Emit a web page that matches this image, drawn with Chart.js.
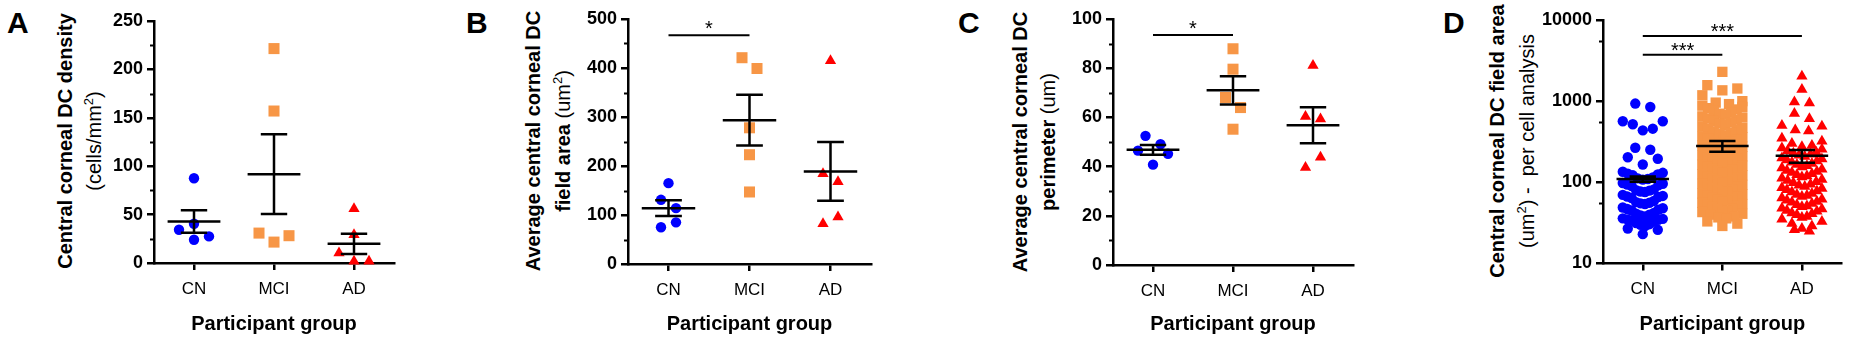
<!DOCTYPE html>
<html>
<head>
<meta charset="utf-8">
<script src="https://cdn.jsdelivr.net/npm/chart.js@4.4.0/dist/chart.umd.min.js"></script>
<style>
  body { margin: 0; background: #fff; width: 1849px; height: 340px; position: relative; overflow: hidden;
         font-family: "Liberation Sans", Arial, sans-serif; color: #000; }
  canvas { position: absolute; top: 0; }
  .letter { position: absolute; top: 8px; font-size: 30px; line-height: 30px; font-weight: bold; }
  .ytitle { position: absolute; white-space: nowrap; font-size: 20px; text-align: center;
            transform: translate(-50%, -50%) rotate(-90deg); }
  .ytitle sup { font-size: 0.65em; line-height: 0; }
</style>
</head>
<body>
<div class="letter" style="left:7px">A</div>
<div class="letter" style="left:466px">B</div>
<div class="letter" style="left:958px">C</div>
<div class="letter" style="left:1443px">D</div>

<div class="ytitle" style="left:80px;top:141px;line-height:29px">
  <div><b>Central corneal DC density</b></div>
  <div>(cells/mm<sup>2</sup>)</div>
</div>
<div class="ytitle" style="left:548px;top:141px;line-height:30px">
  <div><b>Average central corneal DC</b></div>
  <div><b>field area</b> (um<sup>2</sup>)</div>
</div>
<div class="ytitle" style="left:1034px;top:142px;line-height:28px">
  <div><b>Average central corneal DC</b></div>
  <div><b>perimeter</b> (um)</div>
</div>
<div class="ytitle" style="left:1512px;top:141px;line-height:30px">
  <div><b>Central corneal DC field area</b></div>
  <div>(um<sup>2</sup>) -&nbsp; per cell analysis</div>
</div>

<canvas id="chartA" width="315" height="340" style="left:95px"></canvas>
<canvas id="chartB" width="315" height="340" style="left:570px"></canvas>
<canvas id="chartC" width="315" height="340" style="left:1055px"></canvas>
<canvas id="chartD" width="309" height="340" style="left:1540px"></canvas>

<script>
// groups
const groups = ["CN", "MCI", "AD"];
const colors = ["#0000FF", "#F79646", "#FF0000"];
const shapes = ["circle", "rect", "triangle"];

// A - DC density (cells/mm2)
const densCN = [87.6, 40.5, 34.3, 27.5, 24];
const densMCI = [221.5, 157, 30.9, 28.2, 21.6];
const densAD = [56, 29.2, 10.3, 1.7, 1.7];
const densMean = [42.8, 91.8, 19.8];
const densSem = [11.6, 41.1, 10.4];
const densTicks = [0, 50, 100, 150, 200, 250];
const densMinor = [25, 75, 125, 175, 225];

// B - field area (um2)
const areaCN = [165, 131, 114, 85, 75];
const areaMCI = [421, 399, 278, 223, 147];
const areaAD = [415, 184, 168, 96, 82];
const areaMean = [114, 293.6, 189];
const areaSem = [16.2, 52, 59.8];
const areaTicks = [0, 100, 200, 300, 400, 500];
const areaMinor = [50, 150, 250, 350, 450];
const areaSig = [[0, 1, 467, "*"]];

// C - perimeter (um)
const perimCN = [52.5, 49.1, 46.5, 45.2, 40.8];
const perimMCI = [87.9, 79.6, 68.1, 64, 55.2];
const perimAD = [81.1, 60.4, 59.3, 43.8, 39.6];
const perimMean = [46.8, 71, 56.8];
const perimSem = [1.96, 5.77, 7.33];
const perimTicks = [0, 20, 40, 60, 80, 100];
const perimMinor = [10, 30, 50, 70, 90];
const perimSig = [[0, 1, 93.5, "*"]];

// D - per cell field area (um2), log axis
const cellCN = [934, 847, 565, 565, 519, 458, 437, 267, 252, 204, 195, 166,
  135, 131, 128, 125, 122, 115, 112, 110, 108, 98, 96, 94, 92, 90,
  82, 80, 79, 77, 76, 70, 68, 67, 66, 64, 59, 57, 56, 55, 54,
  49, 48, 47, 46, 45, 42, 41, 40, 39, 38, 36, 35.5, 35, 34.5, 34, 33,
  31.5, 30.5, 30, 29, 27, 26, 23];
const cellMCI = [2296, 1574, 1432, 1360, 1182,
  1000, 960, 920, 880, 850, 820, 790, 760, 730, 700,
  680, 650, 630, 610, 590, 570, 550, 530, 510, 490, 470, 455,
  440, 425, 410, 395, 380, 370, 360, 348, 336, 325, 315, 305,
  295, 285, 276, 268, 260, 252, 245, 238, 230, 223, 216, 210,
  204, 198, 192, 186, 180, 175, 170, 165, 160, 155, 150, 146,
  142, 138, 134, 130, 126, 122, 119, 115, 112, 108, 105, 102,
  99, 96, 93, 90, 88, 85, 82, 80, 77, 75, 73, 71,
  69, 67, 65, 63, 61, 60, 58, 56, 54, 53, 51, 50,
  48, 47, 45, 44, 43, 41, 40, 38, 37, 36, 33, 31, 29];
const cellAD = [2032, 1390, 977, 950, 703, 609, 503, 490, 441, 430,
  350, 320, 300, 285, 275, 265, 255, 245, 235, 228,
  222, 215, 208, 200, 194, 188, 183, 177, 171, 166, 160, 155,
  150, 145, 140, 136, 132, 128, 124, 120, 116, 112, 108, 105,
  102, 99, 95, 92, 89, 86, 84, 81, 78, 76, 73, 71,
  69, 67, 64, 62, 60, 58, 57, 55, 53, 51, 50, 48,
  47, 45, 44, 42, 41, 40, 38, 37, 35, 33, 31, 29, 27, 26, 25];
const cellMean = [110, 280, 212];
const cellSem = [8, 42, 38];
const cellTicks = [10, 100, 1000, 10000];
const cellMinor = [55, 550, 5500];
const cellSig = [[0, 2, 6368, "***"], [0, 1, 3727, "***"]];

const FONT = "'Liberation Sans', Arial, sans-serif";

// minor y ticks + significance stars
const extras = {
  id: "extras",
  afterDatasetsDraw(chart, args, opts) {
    const { ctx, chartArea } = chart;
    const xs = chart.scales.x, ys = chart.scales.y;
    ctx.save();
    ctx.strokeStyle = "#000";
    ctx.lineWidth = 2;
    (opts.minor || []).forEach((v) => {
      const py = Math.round(ys.getPixelForValue(v)) + 0.5;
      ctx.beginPath();
      ctx.moveTo(chartArea.left - 4, py);
      ctx.lineTo(chartArea.left, py);
      ctx.stroke();
    });
    ctx.fillStyle = "#000";
    ctx.font = "20px " + FONT;
    ctx.textAlign = "center";
    ctx.textBaseline = "alphabetic";
    (opts.sig || []).forEach((s) => {
      ctx.fillText(s[3], xs.getPixelForValue((s[0] + s[1]) / 2), ys.getPixelForValue(s[2]) - opts.starLift);
    });
    ctx.restore();
  },
};

// GraphPad-like scatter layout: bin by pixel height, spread each bin sideways
function swarm(values, ys, cat, unitPx, o) {
  const pts = values.map((v) => ({ v, py: ys.getPixelForValue(v), x: cat }));
  const sorted = pts.slice().sort((a, b) => a.py - b.py);
  const bins = [];
  let i = 0;
  while (i < sorted.length) {
    const start = sorted[i].py;
    const bin = [sorted[i++]];
    while (i < sorted.length && sorted[i].py - start <= o.binPx) bin.push(sorted[i++]);
    bins.push(bin);
  }
  // points that sit on the centre line
  const centres = bins.filter((b) => b.length === 1).map((b) => b[0].py);
  const clearance = (p) => Math.min(Infinity, ...centres.map((c) => Math.abs(c - p.py)));
  let pairs = 0;
  bins.forEach((bin) => {
    const k = bin.length;
    if (k === 1) return;
    let ordered = bin.slice();
    if (k % 2 === 1) {
      let pick = ordered[k - 1];
      if (clearance(pick) < o.clearPx) {
        pick = ordered.reduce((a, b) => (clearance(b) > clearance(a) ? b : a));
      }
      ordered = ordered.filter((p) => p !== pick).concat([pick]);
      centres.push(pick.py);
    }
    const sp = Math.min(o.spacing, o.maxSpan / (k - 1));
    const slots = [];
    let l = 0, r = k - 1;
    while (l <= r) { slots.push(l); if (r !== l) slots.push(r); l++; r--; }
    let flip = false;
    if (k === 2) { flip = o.alternate && pairs % 2 === 1; pairs++; }
    ordered.forEach((p, j) => {
      let off = (slots[j] - (k - 1) / 2) * sp;
      if (flip) off = -off;
      p.x = cat + off / unitPx;
    });
  });
  return pts.map((p) => ({ x: p.x, y: p.v }));
}

function errorBars(means, sems) {
  const d = [];
  means.forEach((m, i) => {
    const lo = m - sems[i], hi = m + sems[i];
    d.push({ x: i - 0.33, y: m }, { x: i + 0.33, y: m }, { x: i, y: null });
    d.push({ x: i, y: lo }, { x: i, y: hi }, { x: i, y: null });
    d.push({ x: i - 0.165, y: hi }, { x: i + 0.165, y: hi }, { x: i, y: null });
    d.push({ x: i - 0.165, y: lo }, { x: i + 0.165, y: lo }, { x: i, y: null });
  });
  return d;
}

function makePanel(id, p) {
  const datasets = [];
  datasets.push({ data: errorBars(p.mean, p.sem), showLine: true, spanGaps: false, borderColor: "#000",
    borderWidth: 2.5, pointRadius: 0, order: 0, clip: false });
  (p.sig || []).forEach((s) => {
    datasets.push({ data: [{ x: s[0], y: s[2] }, { x: s[1], y: s[2] }], showLine: true, borderColor: "#000",
      borderWidth: 2, pointRadius: 0, order: 0, clip: false });
  });
  p.series.forEach((vals, i) => {
    datasets.push({ data: vals.map((v) => ({ x: i, y: v })), pointStyle: shapes[i],
      pointRadius: p.radius[i], backgroundColor: colors[i], borderWidth: 0, order: 1, clip: false });
  });

  const chart = new Chart(document.getElementById(id), {
    type: "scatter",
    data: { datasets },
    options: {
      responsive: false,
      animation: false,
      events: [],
      layout: { padding: { left: 0, right: p.padRight, top: p.padTop, bottom: 0 } },
      plugins: { legend: { display: false }, tooltip: { enabled: false },
        extras: { minor: p.minor, sig: p.sig, starLift: p.starLift } },
      scales: {
        x: {
          type: "linear", min: -0.5, max: 2.5,
          afterBuildTicks: (s) => { s.ticks = groups.map((g, i) => ({ value: i })); },
          afterFit: (s) => { s.height = p.xHeight; },
          ticks: { callback: (v) => groups[v], font: { family: FONT, size: 17 }, color: "#000",
            padding: 9, maxRotation: 0, autoSkip: false },
          grid: { drawOnChartArea: false, tickLength: 7, color: "#000", lineWidth: 2.5 },
          border: { color: "#000", width: 2.5 },
          title: { display: true, text: "Participant group", color: "#000",
            font: { family: FONT, size: 20, weight: "bold" }, padding: { top: 0, bottom: 4 } },
        },
        y: {
          type: p.log ? "logarithmic" : "linear",
          min: p.ticks[0], max: p.ticks[p.ticks.length - 1],
          afterBuildTicks: (s) => { s.ticks = p.ticks.map((v) => ({ value: v })); },
          afterFit: (s) => { s.width = p.yWidth; },
          ticks: { callback: (v) => String(v), font: { family: FONT, size: 18, weight: "bold" },
            color: "#000", padding: 4 },
          grid: { drawOnChartArea: false, tickLength: 7, color: "#000", lineWidth: 2.5 },
          border: { color: "#000", width: 2.5 },
        },
      },
    },
    plugins: [extras],
  });

  // spread points sideways now that the scales exist
  const xs = chart.scales.x, ys = chart.scales.y;
  const unitPx = xs.getPixelForValue(1) - xs.getPixelForValue(0);
  const first = datasets.length - p.series.length;
  p.series.forEach((vals, i) => {
    chart.data.datasets[first + i].data = swarm(vals, ys, i, unitPx, p.swarm);
  });
  chart.update("none");
  return chart;
}

const smallSwarm = { binPx: 14.5, spacing: 15, maxSpan: 40, clearPx: 10, alternate: true };

makePanel("chartA", {
  series: [densCN, densMCI, densAD], mean: densMean, sem: densSem,
  ticks: densTicks, minor: densMinor, radius: [5.2, 7.8, 6.5],
  yWidth: 59, padRight: 16, padTop: 21, xHeight: 77, starLift: 0, swarm: smallSwarm,
});
makePanel("chartB", {
  series: [areaCN, areaMCI, areaAD], mean: areaMean, sem: areaSem, sig: areaSig,
  ticks: areaTicks, minor: areaMinor, radius: [5.2, 7.8, 6.5],
  yWidth: 58, padRight: 14, padTop: 19, xHeight: 76, starLift: 0, swarm: smallSwarm,
});
makePanel("chartC", {
  series: [perimCN, perimMCI, perimAD], mean: perimMean, sem: perimSem, sig: perimSig,
  ticks: perimTicks, minor: perimMinor, radius: [5.2, 7.8, 6.5],
  yWidth: 58, padRight: 17, padTop: 19, xHeight: 75, starLift: 0, swarm: smallSwarm,
});
makePanel("chartD", {
  series: [cellCN, cellMCI, cellAD], mean: cellMean, sem: cellSem, sig: cellSig, log: true,
  ticks: cellTicks, minor: cellMinor, radius: [5.2, 7.3, 6.5],
  yWidth: 63, padRight: 4, padTop: 20, xHeight: 76.5, starLift: -2,
  swarm: { binPx: 9.2, spacing: 15, maxSpan: 40, clearPx: 10, alternate: false },
});
</script>
</body>
</html>
